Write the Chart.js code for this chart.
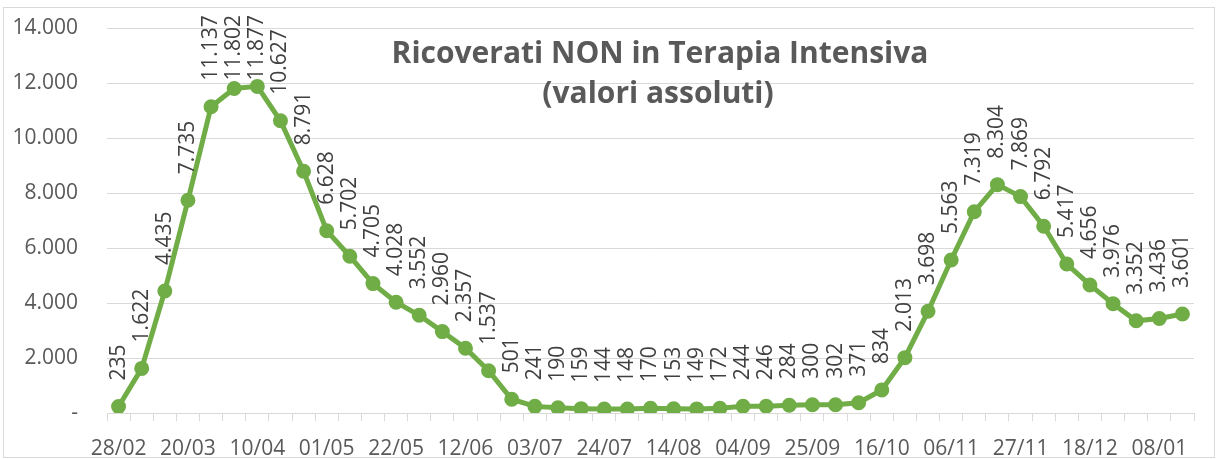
<!DOCTYPE html>
<html>
<head>
<meta charset="utf-8">
<script src="https://cdn.jsdelivr.net/npm/chart.js@4"></script>
<style>
  body { margin: 0; background: #fff; }
  #wrap { position: absolute; left: 0; top: 0; width: 1219px; height: 459px; }
</style>
</head>
<body>
<div id="wrap"><canvas id="chart1" width="1219" height="459"></canvas></div>
<script>
var dates = ['28/02', '06/03', '13/03', '20/03', '27/03', '03/04', '10/04', '17/04', '24/04', '01/05',
    '08/05', '15/05', '22/05', '29/05', '05/06', '12/06', '19/06', '26/06', '03/07', '10/07',
    '17/07', '24/07', '31/07', '07/08', '14/08', '21/08', '28/08', '04/09', '11/09', '18/09',
    '25/09', '02/10', '09/10', '16/10', '23/10', '30/10', '06/11', '13/11', '20/11', '27/11',
    '04/12', '11/12', '18/12', '25/12', '01/01', '08/01', '15/01'];
var ricoverati = [235, 1622, 4435, 7735, 11137, 11802, 11877, 10627, 8791, 6628,
    5702, 4705, 4028, 3552, 2960, 2357, 1537, 501, 241, 190,
    159, 144, 148, 170, 153, 149, 172, 244, 246, 284,
    300, 302, 371, 834, 2013, 3698, 5563, 7319, 8304, 7869,
    6792, 5417, 4656, 3976, 3352, 3436, 3601];
var titleLines = ['Ricoverati NON in Terapia Intensiva', '(valori assoluti)'];

function fmt(v) {
    return String(v).replace(/\B(?=(\d{3})+(?!\d))/g, '.');
}

var txtFont = '"Open Sans", "Liberation Sans", sans-serif';

// bordo esterno + titolo sovrapposto all'area del grafico
var decor = {
    id: 'decor',
    beforeDraw: function(chart) {
        var c = chart.ctx;
        c.save();
        c.strokeStyle = '#d9d9d9';
        c.lineWidth = 1;
        c.strokeRect(3.5, 7.5, 1211, 450);
        c.restore();
    },
    afterDraw: function(chart) {
        var c = chart.ctx;
        c.save();
        c.fillStyle = '#595959';
        c.font = 'bold 30px ' + txtFont;
        c.textAlign = 'center';
        c.textBaseline = 'alphabetic';
        c.fillText(titleLines[0], 660, 63);
        c.fillText(titleLines[1], 658, 103);
        c.restore();
    }
};

// etichette dati verticali sopra i punti
var valueLabels = {
    id: 'valueLabels',
    afterDatasetsDraw: function(chart) {
        var c = chart.ctx;
        var meta = chart.getDatasetMeta(0);
        c.save();
        c.fillStyle = '#404040';
        c.font = '21px ' + txtFont;
        c.textAlign = 'left';
        c.textBaseline = 'middle';
        meta.data.forEach(function(pt, i) {
            var s = fmt(chart.data.datasets[0].data[i]);
            var w = c.measureText(s).width;
            var y0 = Math.max(pt.y - 26, 15 + w);
            c.save();
            c.translate(pt.x, y0);
            c.rotate(-Math.PI / 2);
            c.fillText(s, 0, 0);
            c.restore();
        });
        c.restore();
    }
};

var ctx1 = document.getElementById('chart1').getContext('2d');
var chart1 = new Chart(ctx1, {
    type: 'line',
    data: {
        labels: dates,
        datasets: [{
            label: 'Ricoverati NON in Terapia Intensiva',
            data: ricoverati,
            borderColor: '#70ad47',
            backgroundColor: '#70ad47',
            borderWidth: 5,
            pointRadius: 6.5,
            pointBorderWidth: 2,
            pointBackgroundColor: '#70ad47',
            pointBorderColor: '#70ad47',
            tension: 0
        }]
    },
    options: {
        responsive: false,
        animation: false,
        layout: { padding: { top: 28, right: 25, bottom: 0, left: 0 } },
        plugins: {
            legend: { display: false },
            tooltip: { enabled: false }
        },
        scales: {
            x: {
                offset: true,
                afterFit: function(scale) { scale.height = 46; },
                grid: {
                    offset: true,
                    drawOnChartArea: false,
                    drawTicks: true,
                    tickLength: 8,
                    color: '#d9d9d9'
                },
                border: { color: '#d9d9d9' },
                ticks: {
                    autoSkip: false,
                    maxRotation: 0,
                    padding: 15,
                    color: '#595959',
                    font: { family: txtFont, size: 21 },
                    callback: function(value, index) {
                        return index % 3 === 0 ? dates[index] : '';
                    }
                }
            },
            y: {
                min: 0,
                max: 14000,
                afterFit: function(scale) {
                    scale.width = 107;
                    scale.paddingTop = 0;
                    scale.paddingBottom = 0;
                },
                grid: { color: '#d9d9d9', drawTicks: false },
                border: { display: false },
                ticks: {
                    stepSize: 2000,
                    padding: 29,
                    color: '#595959',
                    font: { family: txtFont, size: 21 },
                    callback: function(value) {
                        return value === 0 ? '-' : fmt(value);
                    }
                }
            }
        }
    },
    plugins: [decor, valueLabels]
});
</script>
</body>
</html>
